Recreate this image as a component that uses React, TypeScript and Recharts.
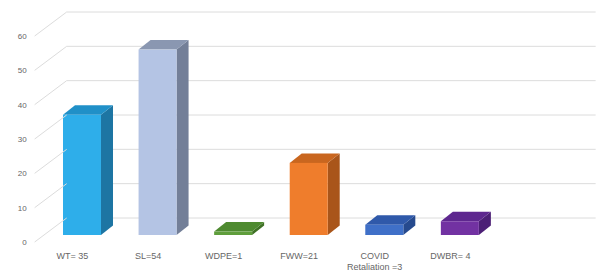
import React from "react";
import { BarChart, Bar, XAxis, YAxis, Cell, CartesianGrid } from "recharts";

const categories = ["WT= 35", "SL=54", "WDPE=1", "FWW=21", "COVID|Retaliation =3", "DWBR= 4", ""];
const values: (number | null)[] = [35, 54, 1, 21, 3, 4, null];
const frontColors = ["#2eaeea", "#b4c4e4", "#5f9e3c", "#ef7d2c", "#3f70c8", "#7232a2", "#ffffff"];
const topColors = ["#2090c8", "#8a97b1", "#4e8a30", "#c9661f", "#2f59aa", "#5e278f", "#ffffff"];
const sideColors = ["#1d75a3", "#737f98", "#3f7126", "#a9551a", "#264a8e", "#4c1f76", "#ffffff"];
const yTicks = [0, 10, 20, 30, 40, 50, 60];
const Y_MAX = 60;

const data = categories.map((c, i) => ({ name: c, value: values[i], idx: i }));

const W = 596;
const H = 264;
const M = { top: 21, right: 31, bottom: 7, left: 6 };
const Y_AXIS_W = 30;
const X_AXIS_H = 30;
const PLOT_LEFT = M.left + Y_AXIS_W;
const PLOT_RIGHT = W - M.right;
const PLOT_TOP = M.top;
const PLOT_H = H - M.top - M.bottom - X_AXIS_H;
// wall depth (front plane -> back wall)
const WALL_DX = 32;
const WALL_DY = 24;
const FRONT_FRAC = 7 / 24; // bars' front face sits this far behind the front plane
const BAR_DX = 12;
const BAR_DY = 9.5;

const FRONT_X = PLOT_LEFT - WALL_DX * FRONT_FRAC;
const BACK_X = FRONT_X + WALL_DX;
const BACK_RIGHT = PLOT_RIGHT + WALL_DX * (1 - FRONT_FRAC);
const BACK_SHIFT = WALL_DY * (1 - FRONT_FRAC);

const GRID = "#dcdcdc";
const TEXT = "#666666";

const YTick = (props: any) => {
  const { y, payload } = props;
  const frontY = y + WALL_DY * FRONT_FRAC;
  const backY = frontY - WALL_DY;
  return (
    <g>
      <line x1={FRONT_X} y1={frontY} x2={BACK_X} y2={backY} stroke={GRID} strokeWidth={1} />
      <text x={FRONT_X - 8} y={frontY + 3} textAnchor="end" fontSize={8} fill={TEXT} fontFamily="Liberation Sans, Arial, sans-serif">
        {payload.value}
      </text>
    </g>
  );
};

const XTick = (props: any) => {
  const { x, payload } = props;
  const lines = String(payload.value).split("|");
  const cx = x - WALL_DX * FRONT_FRAC;
  const baseY = H - M.bottom - X_AXIS_H + 24;
  return (
    <text x={cx} y={baseY} textAnchor="middle" fontSize={9} fill={TEXT} fontFamily="Liberation Sans, Arial, sans-serif">
      {lines.map((l, i) => (
        <tspan key={i} x={cx} dy={i === 0 ? 0 : 11}>
          {l}
        </tspan>
      ))}
    </text>
  );
};

const Box = (props: any) => {
  const { x, y, width, height, payload } = props;
  if (payload == null || payload.value == null) return null;
  const i = payload.idx;
  const w = width;
  const h = Math.max(height, 0);
  const top = `${x},${y} ${x + BAR_DX},${y - BAR_DY} ${x + w + BAR_DX},${y - BAR_DY} ${x + w},${y}`;
  const side = `${x + w},${y} ${x + w + BAR_DX},${y - BAR_DY} ${x + w + BAR_DX},${y + h - BAR_DY} ${x + w},${y + h}`;
  return (
    <g>
      <polygon points={side} fill={sideColors[i]} />
      <polygon points={top} fill={topColors[i]} />
      <rect x={x} y={y} width={w} height={h} fill={frontColors[i]} />
    </g>
  );
};

const backGridYs = () => yTicks.map((v) => PLOT_TOP + PLOT_H * (1 - v / Y_MAX) - BACK_SHIFT);

export default function App() {
  return (
    <div style={{ width: W, height: H, background: "#fff" }}>
      <BarChart width={W} height={H} data={data} margin={M}>
        <CartesianGrid
          vertical={false}
          stroke={GRID}
          x={BACK_X}
          width={BACK_RIGHT - BACK_X}
          horizontalCoordinatesGenerator={backGridYs}
        />
        <YAxis
          domain={[0, Y_MAX]}
          ticks={yTicks}
          width={Y_AXIS_W}
          axisLine={false}
          tickLine={false}
          tick={<YTick />}
          interval={0}
        />
        <XAxis
          dataKey="name"
          axisLine={false}
          tickLine={false}
          interval={0}
          height={X_AXIS_H}
          tick={<XTick />}
        />
        <Bar dataKey="value" barSize={38} shape={<Box />} isAnimationActive={false}>
          {data.map((d, i) => (
            <Cell key={i} fill={frontColors[i]} />
          ))}
        </Bar>
      </BarChart>
    </div>
  );
}
